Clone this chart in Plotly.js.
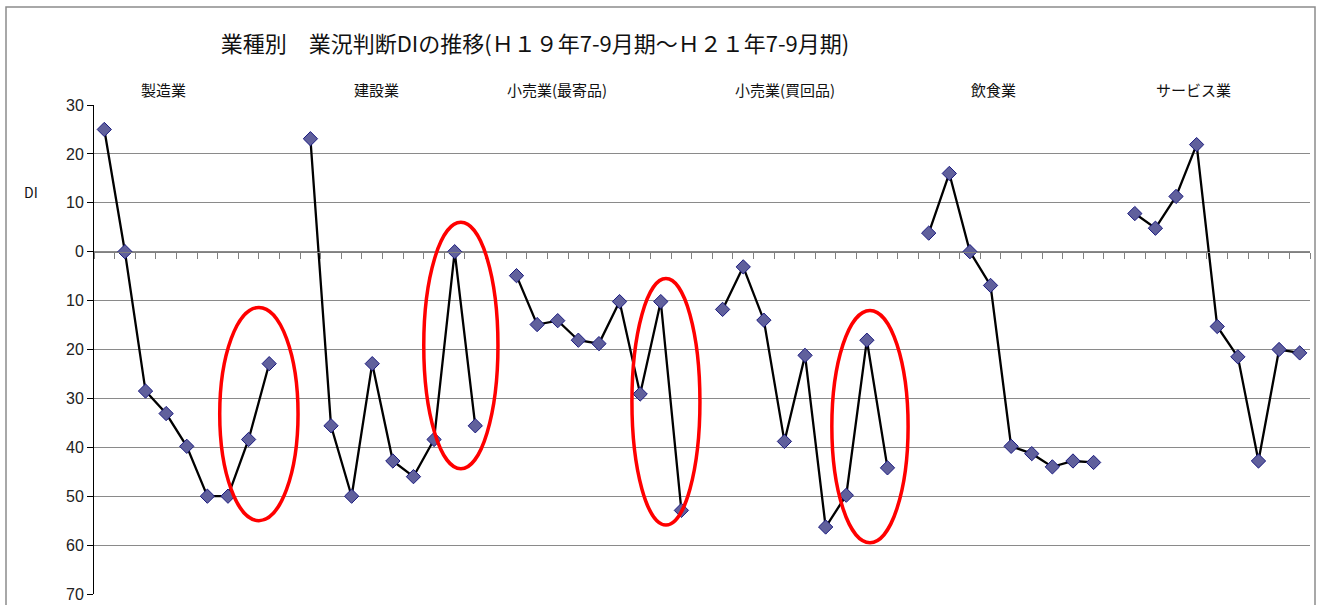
<!DOCTYPE html>
<html>
<head>
<meta charset="utf-8">
<script src="https://cdn.plot.ly/plotly-3.0.1.min.js"></script>
<style>html,body{margin:0;padding:0;background:#fff;}#chart{width:1320px;height:605px;}</style>
</head>
<body>
<div id="chart"></div>
<script>
// Group labels (industries)
const groups = ["製造業", "建設業", "小売業(最寄品)", "小売業(買回品)", "飲食業", "サービス業"];
// Quarter labels: H19 7-9 .. H21 7-9 (9 quarters)
const quarters = ["H19.7-9","H19.10-12","H20.1-3","H20.4-6","H20.7-9","H20.10-12","H21.1-3","H21.4-6","H21.7-9"];
// DI values per industry
const manufacturing = [25, 0, -28.5, -33.1, -39.8, -50, -50, -38.4, -22.9];
const construction  = [23.1, -35.6, -50, -22.9, -42.8, -46, -38.4, 0, -35.6];
const retailDaily   = [-4.9, -14.9, -14.1, -18.1, -18.8, -10.2, -29.1, -10.2, -52.9];
const retailShopping= [-11.8, -3.1, -14, -38.8, -21.2, -56.3, -49.8, -18.1, -44.2];
const restaurants   = [3.8, 16, 0, -6.9, -39.8, -41.3, -44, -42.8, -43.1];
const services      = [7.8, 4.8, 11.3, 21.9, -15.3, -21.5, -42.8, -20, -20.7];
const seriesList = [manufacturing, construction, retailDaily, retailShopping, restaurants, services];
// Y tick labels (shown without sign)
const yTickVals = [30, 20, 10, 0, -10, -20, -30, -40, -50, -60, -70];
const yTickText = ["30","20","10","0","10","20","30","40","50","60","70"];

// Build one x/y sequence with gaps between industries
const xs = [], ys = [], texts = [];
let idx = 0;
seriesList.forEach((s, g) => {
  s.forEach((v, q) => { xs.push(idx); ys.push(v); texts.push(groups[g] + " " + quarters[q]); idx++; });
  if (g < seriesList.length - 1) { xs.push(idx); ys.push(null); texts.push(""); idx++; }
});
const nCats = idx;

const L = 94, R = 10, T = 105, B = 11, W = 1320, H = 605;
const pw = W - L - R, ph = H - T - B;
const px = p => (p - L) / pw;
const py = p => (H - B - p) / ph;

const trace = {
  x: xs, y: ys, text: texts, type: "scatter", mode: "lines+markers",
  connectgaps: false,
  line: {color: "#000000", width: 2.3},
  marker: {symbol: "diamond", size: 11, color: "#60609C", line: {color: "#1A1A80", width: 1}},
  hoverinfo: "text+y"
};

const groupCenters = [163, 376, 557, 785, 993, 1193];
const annotations = groups.map((g, i) => ({
  text: g, xref: "paper", yref: "paper", x: px(groupCenters[i]), y: py(90),
  xanchor: "center", yanchor: "middle", showarrow: false,
  font: {family: "Noto Sans CJK JP", size: 15, color: "#111"}
}));
annotations.push({
  text: "DI", xref: "paper", yref: "paper", x: px(31), y: py(192),
  xanchor: "center", yanchor: "middle", showarrow: false,
  font: {family: "Noto Sans CJK JP", size: 14, color: "#111"}
});

const ell = (x0, x1, y0, y1) => ({
  type: "circle", xref: "x", yref: "y", x0, x1, y0, y1,
  line: {color: "#FF0000", width: 3.5}
});

const layout = {
  width: W, height: H,
  margin: {l: L, r: R, t: T, b: B},
  paper_bgcolor: "#ffffff", plot_bgcolor: "#ffffff",
  showlegend: false,
  title: {
    text: "業種別　業況判断DIの推移(Ｈ１９年7-9月期～Ｈ２１年7-9月期)",
    x: 535 / W, xanchor: "center", xref: "container",
    y: 1 - 44 / H, yanchor: "middle", yref: "container",
    font: {family: "Noto Sans CJK JP", size: 22, color: "#111"}
  },
  xaxis: {
    range: [-0.5, nCats - 0.5],
    anchor: "free", position: 0.7,
    showgrid: false, zeroline: false,
    showline: true, linecolor: "#808080", linewidth: 1,
    ticks: "outside", ticklen: 6, tickcolor: "#808080", tickwidth: 1,
    tickmode: "linear", tick0: -0.5, dtick: 1,
    showticklabels: false, fixedrange: true
  },
  yaxis: {
    range: [-70, 30],
    tickmode: "array", tickvals: yTickVals, ticktext: yTickText,
    showgrid: true, gridcolor: "#8a8a8a", gridwidth: 1,
    zeroline: false,
    showline: true, linecolor: "#000000", linewidth: 1,
    ticks: "outside", ticklen: 6, tickcolor: "#000000",
    tickfont: {family: "Liberation Sans, Arial", size: 16, color: "#222"},
    fixedrange: true
  },
  annotations: annotations,
  shapes: [
    ell(5.6, 9.4, -11.4, -55.0),
    ell(15.5, 19.1, 6.0, -44.4),
    ell(25.6, 28.9, -5.5, -55.9),
    ell(35.3, 39.0, -12.0, -59.5),
    {type: "rect", xref: "paper", yref: "paper", x0: px(6), x1: px(1315), y0: py(620), y1: py(7),
     line: {color: "#8c8c8c", width: 1.5}, fillcolor: "rgba(0,0,0,0)", layer: "below"}
  ]
};

Plotly.newPlot("chart", [trace], layout, {displayModeBar: false, staticPlot: true});
</script>
</body>
</html>
